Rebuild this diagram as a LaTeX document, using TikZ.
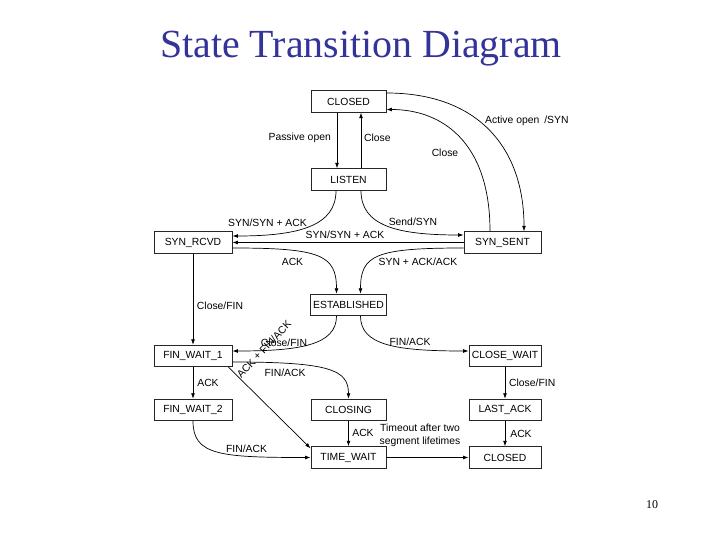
\documentclass[tikz,border=0pt]{standalone}
\usepackage{fontspec}
\setmainfont{Liberation Sans}
\newfontfamily\serifFam{Liberation Serif}
\usetikzlibrary{arrows.meta}
\definecolor{titleblue}{RGB}{51,51,153}
\begin{document}
\begin{tikzpicture}[x=1bp,y=-1bp,
  state/.style={draw=black!85, line width=0.8bp, minimum height=21.5bp, inner sep=0pt, font=\fontsize{10.4}{12}\selectfont},
  wbox/.style={state, minimum width=75bp},
  lbox/.style={state, minimum width=78bp},
  rbox/.style={state, minimum width=72bp},
  lab/.style={inner sep=0pt, font=\fontsize{10.4}{12}\selectfont},
  tr/.style={line width=0.7bp, -{Latex[length=5.5bp,width=3.8bp]}}
]
\useasboundingbox (0,0) rectangle (720,540);
\fill[white] (0,0) rectangle (720,540);

% title and page number
\node[anchor=base, inner sep=0pt, text=titleblue, font=\serifFam\fontsize{40}{46}\selectfont] (title) at (361,58) {State Transition Diagram};
\node[anchor=base, inner sep=0pt, font=\serifFam\fontsize{12}{14}\selectfont] (pnum) at (652,508) {10};

% states
\node[wbox] (closedT) at (348.5,101.5) {CLOSED};
\node[wbox] (listen) at (348.5,179.5) {LISTEN};
\node[lbox] (synrcvd) at (193,242.5) {SYN\_RCVD};
\node[state, minimum width=77bp] (synsent) at (502.5,242.5) {SYN\_SENT};
\node[state, minimum width=76bp] (estab) at (348.5,305) {ESTABLISHED};
\node[lbox] (fw1) at (193,356) {FIN\_WAIT\_1};
\node[rbox] (closewait) at (505,356) {CLOSE\_WAIT};
\node[lbox] (fw2) at (193,410) {FIN\_WAIT\_2};
\node[wbox] (closing) at (348.5,410) {CLOSING};
\node[rbox] (lastack) at (505,410) {LAST\_ACK};
\node[wbox] (timewait) at (348.5,457.5) {TIME\_WAIT};
\node[rbox] (closedB) at (505,457.5) {CLOSED};

% transitions
\draw[tr] ([xshift=-11.5bp]closedT.south) -- ([xshift=-11.5bp]listen.north);
\draw[tr] ([xshift=12.5bp]listen.north) -- ([xshift=12.5bp]closedT.south);
\draw[tr] ([yshift=8.5bp]closedT.east) .. controls +(94,0) and +(0,-81) .. ([xshift=21.5bp]synsent.north);
\draw[tr] ([xshift=-12.5bp]synsent.north) .. controls +(0,-91) and +(54,0) .. ([yshift=-8bp]closedT.east);
\draw[tr] ([xshift=-12.5bp]listen.south) .. controls +(0,35) and +(67,0) .. ([yshift=6.5bp]synrcvd.east);
\draw[tr] ([xshift=12.5bp]listen.south) .. controls +(0,35) and +(-67,0) .. ([yshift=7.5bp]synsent.west);
\draw[tr] (synsent.west) -- (synrcvd.east);
\draw[tr] ([yshift=-5.5bp]synrcvd.east) .. controls +(88,0) and +(0,-39) .. ([xshift=-12bp]estab.north);
\draw[tr] ([yshift=-5.5bp]synsent.west) .. controls +(-88,0) and +(0,-39) .. ([xshift=12bp]estab.north);
\draw[tr] (synrcvd.south) -- (fw1.north);
\draw[tr] ([xshift=-12bp]estab.south) .. controls +(0,29) and +(67,0) .. ([yshift=5bp]fw1.east);
\draw[tr] ([xshift=12bp]estab.south) .. controls +(0,29) and +(-73,0) .. ([yshift=5bp]closewait.west);
\draw[tr] ([yshift=-6bp]fw1.east) .. controls +(98,0) and +(0,-29) .. (closing.north);
\draw[tr] ([xshift=-4bp]fw1.south east) -- ([yshift=-2bp]timewait.north west);
\draw[tr] (fw1.south) -- (fw2.north);
\draw[tr] (fw2.south) .. controls +(0,34) and +(-91,0) .. (timewait.west);
\draw[tr] (closing.south) -- (timewait.north);
\draw[tr] (timewait.east) -- (closedB.west);
\draw[tr] (closewait.south) -- (lastack.north);
\draw[tr] (lastack.south) -- (closedB.north);

% labels
\node[lab, anchor=east] (l1) at (331,138) {Passive open};
\node[lab, anchor=west] (l2) at (364,138) {Close};
\node[lab, anchor=west] (l3) at (485,121) {Active open\hspace{5bp}/SYN};
\node[lab] (l4) at (445,153) {Close};
\node[lab] (l5) at (267.5,222.5) {SYN/SYN + ACK};
\node[lab] (l6) at (413,222) {Send/SYN};
\node[lab] (l7) at (345,234.5) {SYN/SYN + ACK};
\node[lab] (l8) at (292.5,261.5) {ACK};
\node[lab] (l9) at (418,261.5) {SYN + ACK/ACK};
\node[lab] (l10) at (220,306) {Close/FIN};
\node[lab] (l11) at (284,343) {Close/FIN};
\node[lab] (l12) at (410,342) {FIN/ACK};
\node[lab] (l13) at (285,372.5) {FIN/ACK};
\node[lab, rotate=47] (l14) at (264,349) {ACK + FIN/ACK};
\node[lab] (l15) at (208,383) {ACK};
\node[lab] (l16) at (246.5,449) {FIN/ACK};
\node[lab] (l17) at (363,433) {ACK};
\node[lab, align=center, font=\fontsize{10.4}{13}\selectfont] (l18) at (420,435) {Timeout after two\\segment lifetimes};
\node[lab, anchor=west] (l19) at (509,383) {Close/FIN};
\node[lab] (l20) at (521,434) {ACK};
\end{tikzpicture}
\end{document}
